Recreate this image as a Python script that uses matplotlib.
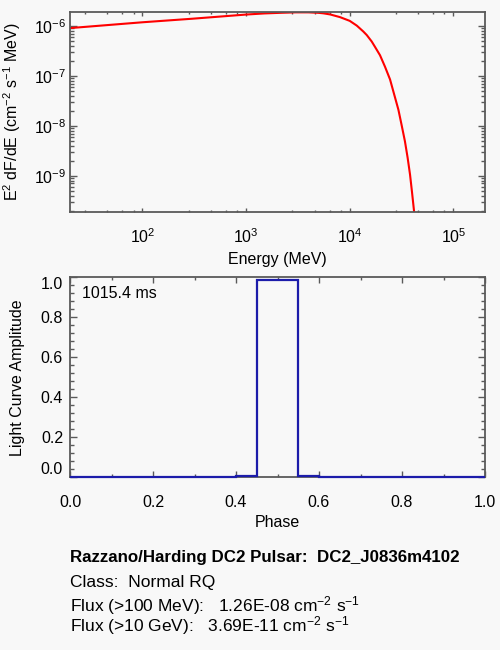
import matplotlib
matplotlib.use("Agg")
import matplotlib.pyplot as plt
import numpy as np
from matplotlib.ticker import LogLocator, MultipleLocator, NullFormatter

# Espectro (MeV, MeV cm^-2 s^-1)
energia = [20, 100, 300, 1000, 1500, 2130, 3000, 4000, 5000, 5560, 6460,
           8050, 1.0e4, 1.17e4, 1.35e4, 1.46e4, 1.63e4, 1.75e4, 1.96e4,
           2.19e4, 2.45e4, 2.67e4, 2.95e4, 3.17e4, 3.41e4, 3.62e4, 3.82e4,
           3.99e4, 4.17e4, 4.4e4]
flujo = [9.1e-7, 1.19e-6, 1.40e-6, 1.70e-6, 1.79e-6, 1.84e-6, 1.88e-6,
         1.88e-6, 1.84e-6, 1.80e-6, 1.71e-6, 1.51e-6, 1.27e-6, 1.02e-6,
         7.8e-7, 6.6e-7, 4.9e-7, 3.85e-7, 2.6e-7, 1.53e-7, 8.5e-8, 4.45e-8,
         2.1e-8, 1.03e-8, 4.9e-9, 2.3e-9, 1.05e-9, 4.7e-10, 2.0e-10, 6e-11]

# Curva de luz (bordes de fase y amplitud)
fase_bordes = [0.0, 0.40, 0.45, 0.55, 0.60, 1.0]
amplitud = [0.0, 0.006, 0.985, 0.006, 0.0]

periodo = "1015.4 ms"
titulo = "Razzano/Harding DC2 Pulsar:  DC2_J0836m4102"
clase = "Class:  Normal RQ"
flux100 = r"Flux (>100 MeV):   1.26E-08 cm$^{-2}$ s$^{-1}$"
flux10 = r"Flux (>10 GeV):   3.69E-11 cm$^{-2}$ s$^{-1}$"

fondo = "#f8f8f8"
gris = "#5a5a5a"

plt.rcParams['font.family'] = ['Liberation Sans', 'DejaVu Sans']
plt.rcParams['mathtext.fontset'] = 'custom'
plt.rcParams['mathtext.rm'] = 'Liberation Sans'
plt.rcParams['mathtext.it'] = 'Liberation Sans:italic'
plt.rcParams['mathtext.bf'] = 'Liberation Sans:bold'
plt.rcParams['mathtext.default'] = 'regular'

fig = plt.figure(figsize=(5, 6.5), dpi=100, facecolor=fondo)
ax1 = fig.add_axes([0.14, 0.6743, 0.83, 0.3065], facecolor=fondo)
ax2 = fig.add_axes([0.14, 0.2657, 0.83, 0.3077], facecolor=fondo)

for ax in (ax1, ax2):
    for s in ax.spines.values():
        s.set_color(gris)
        s.set_linewidth(1.3)
    ax.tick_params(which='both', direction='in', top=True, right=True,
                   color=gris, labelsize=11.5, width=1.0)

# Panel superior: espectro
ax1.plot(energia, flujo, color='red', lw=1.5)
ax1.set_xscale('log')
ax1.set_yscale('log')
ax1.set_xlim(20, 2.02e5)
ax1.set_ylim(1.9e-10, 1.87e-6)
ax1.xaxis.set_minor_locator(LogLocator(base=10, subs=[2.8, 4.6, 6.4, 8.2]))
ax1.xaxis.set_minor_formatter(NullFormatter())
ax1.yaxis.set_minor_locator(LogLocator(base=10, subs=np.arange(2, 10)))
ax1.yaxis.set_minor_formatter(NullFormatter())
ax1.tick_params(axis='x', which='major', length=3, pad=11)
ax1.tick_params(axis='x', which='minor', length=1.5)
ax1.tick_params(axis='y', which='major', length=5, pad=3)
ax1.tick_params(axis='y', which='minor', length=2.8)
ax1.set_xlabel("Energy (MeV)", fontsize=11.5)
ax1.set_ylabel(r"E$^2$ dF/dE (cm$^{-2}$ s$^{-1}$ MeV)", fontsize=11.5)
ax1.xaxis.set_label_coords(0.5, -0.2)
ax1.yaxis.set_label_coords(-0.113, 0.5)

# Panel inferior: curva de luz
ax2.stairs(amplitud, fase_bordes, color='#1c1caa', lw=1.6, zorder=3,
           clip_on=False)
ax2.set_xlim(0, 1)
ax2.set_ylim(0, 1)
ax2.set_xticks(np.arange(0, 1.01, 0.2))
ax2.set_yticks(np.arange(0, 1.01, 0.2))
ax2.xaxis.set_minor_locator(MultipleLocator(0.1))
ax2.yaxis.set_minor_locator(MultipleLocator(0.04))
ax2.xaxis.set_major_formatter(lambda v, p: f"{v:.1f}")
ax2.yaxis.set_major_formatter(lambda v, p: f"{v:.1f}")
ax2.tick_params(axis='x', which='major', length=4, pad=12.5)
ax2.tick_params(axis='x', which='minor', length=2.2)
ax2.tick_params(axis='y', which='major', length=5, pad=5)
ax2.tick_params(axis='y', which='minor', length=2.8)
ax2.set_xlabel("Phase", fontsize=11.5)
ax2.set_ylabel("Light Curve Amplitude", fontsize=11.5)
ax2.xaxis.set_label_coords(0.5, -0.19)
ax2.yaxis.set_label_coords(-0.108, 0.5)
ax2.text(0.028, 0.92, periodo, transform=ax2.transAxes, fontsize=11.5,
         va='center', ha='left')

# Etiquetas extremas del eje y hacia dentro
ticks_y = ax2.yaxis.get_major_ticks()
ticks_y[0].label1.set_va('bottom')
ticks_y[-1].label1.set_va('top')

# Texto inferior
fig.text(70 / 500, 1 - 562.3 / 650, titulo, fontsize=12.2, fontweight='bold',
         va='baseline')
fig.text(70 / 500, 1 - 587.3 / 650, clase, fontsize=12.5, va='baseline')
fig.text(70 / 500, 1 - 611.7 / 650, flux100, fontsize=12.5, va='baseline')
fig.text(70 / 500, 1 - 631.7 / 650, flux10, fontsize=12.5, va='baseline')

fig.savefig("out.png", dpi=100, facecolor=fondo)
